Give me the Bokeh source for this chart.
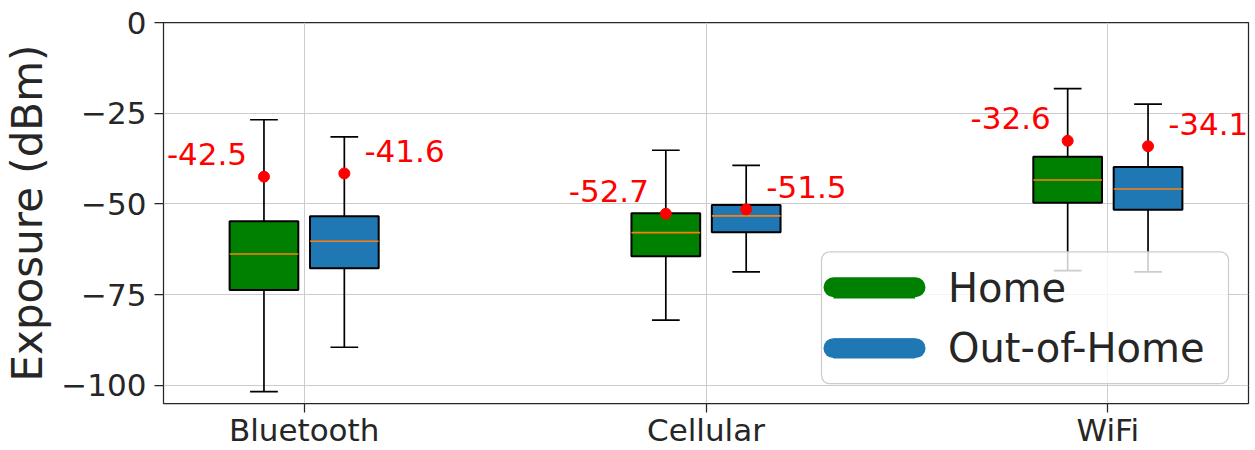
from bokeh.plotting import figure
from bokeh.models import Range1d, FixedTicker, ColumnDataSource, Legend, LegendItem, BoxAnnotation
from bokeh.core.properties import value
from bokeh.embed import file_html
from bokeh.resources import INLINE

categories = ["Bluetooth", "Cellular", "WiFi"]
groups = ["Home", "Out-of-Home"]
group_colors = ["#008000", "#1f77b4"]

home_whislo = [-101.7, -82.0, -68.4]
home_q1 = [-73.7, -64.4, -49.7]
home_med = [-63.8, -57.9, -43.4]
home_q3 = [-54.8, -52.6, -37.0]
home_whishi = [-26.8, -35.2, -18.2]
home_mean = [-42.5, -52.7, -32.6]

ooh_whislo = [-89.5, -68.7, -68.7]
ooh_q1 = [-67.7, -57.8, -51.6]
ooh_med = [-60.3, -53.3, -45.9]
ooh_q3 = [-53.4, -50.3, -39.8]
ooh_whishi = [-31.5, -39.4, -22.5]
ooh_mean = [-41.6, -51.5, -34.1]

y_ticks = [-100, -75, -50, -25, 0]

FONT = "DejaVu Sans"
TXT = "#262626"

W, H = 1255, 450
BL, BR, BT, BB = 163, 7, 22, 46
X0, X1 = -0.35, 2.35
Y0, Y1 = -105, 0

p = figure(width=W, height=H, output_backend="svg", toolbar_location=None,
           x_range=Range1d(X0, X1), y_range=Range1d(Y0, Y1),
           min_border_left=BL, min_border_right=BR, min_border_top=BT, min_border_bottom=BB)
p.background_fill_color = "white"
p.border_fill_color = "white"
p.outline_line_color = TXT
p.outline_line_width = 1.25

BOX_W = 0.171
CAP_W = 0.069

def draw_group(idx_off, whislo, q1, med, q3, whishi, mean, color, label_off, align):
    xs = [i + idx_off for i in range(len(categories))]
    src = ColumnDataSource(dict(
        x=xs, whislo=whislo, q1=q1, med=med, q3=q3, whishi=whishi, mean=mean,
        xl=[x - BOX_W / 2 for x in xs], xr=[x + BOX_W / 2 for x in xs],
        cl=[x - CAP_W / 2 for x in xs], cr=[x + CAP_W / 2 for x in xs],
        tx=[x + label_off for x in xs], ty=[m + 6.2 for m in mean],
        txt=["%.1f" % m for m in mean],
    ))
    p.segment(x0="x", y0="q3", x1="x", y1="whishi", source=src, line_color="black", line_width=1.7)
    p.segment(x0="x", y0="q1", x1="x", y1="whislo", source=src, line_color="black", line_width=1.7)
    p.segment(x0="cl", y0="whishi", x1="cr", y1="whishi", source=src, line_color="black", line_width=1.7)
    p.segment(x0="cl", y0="whislo", x1="cr", y1="whislo", source=src, line_color="black", line_width=1.7)
    p.vbar(x="x", width=BOX_W, top="q3", bottom="q1", source=src,
           fill_color=color, line_color="black", line_width=2)
    p.segment(x0="xl", y0="med", x1="xr", y1="med", source=src, line_color="#ff7f0e", line_width=1.6)
    p.scatter(x="x", y="mean", source=src, marker="circle", size=11,
              fill_color="red", line_color="red")
    p.text(x="tx", y="ty", text="txt", source=src, text_color="red",
           text_font=value(FONT), text_font_size="31px",
           text_align=align, text_baseline="middle")

draw_group(-0.1, home_whislo, home_q1, home_med, home_q3, home_whishi, home_mean,
           group_colors[0], -0.042, "right")
draw_group(0.1, ooh_whislo, ooh_q1, ooh_med, ooh_q3, ooh_whishi, ooh_mean,
           group_colors[1], 0.05, "left")

# legend proxies (drawn outside the visible ranges)
proxies = [p.segment(x0=[-10], y0=[-500], x1=[-9], y1=[-500],
                     line_color=c, line_width=20, line_cap="butt") for c in group_colors]

LEG_MARGIN, LEG_PAD, LEG_SPACING = 20, 12, 14
GLYPH_W, GLYPH_H, STANDOFF, LABEL_W = 82, 24, 33, 268
ROW_H = 47      # rendered height of a 40px legend label
PILL_H = 20

frame_w = W - BL - BR
frame_h = H - BT - BB
def dx(px):
    return X0 + px * (X1 - X0) / frame_w
def dy(py):
    return Y0 + py * (Y1 - Y0) / frame_h

n = len(groups)
leg_w = 2 * LEG_PAD + GLYPH_W + STANDOFF + LABEL_W
leg_h = 2 * LEG_PAD + n * ROW_H + (n - 1) * LEG_SPACING
leg_left = frame_w - LEG_MARGIN - leg_w
leg_bottom = LEG_MARGIN

# legend frame: translucent white, light border, rounded corners
bg = BoxAnnotation(left=dx(leg_left), right=dx(leg_left + leg_w),
                   bottom=dy(leg_bottom), top=dy(leg_bottom + leg_h),
                   fill_color="white", fill_alpha=0.8,
                   line_color="#cccccc", line_width=1.2, line_alpha=1.0)
if "border_radius" in BoxAnnotation.properties():
    bg.border_radius = 8
p.add_layout(bg)

# rounded swatches in the legend's glyph area
g_left = leg_left + LEG_PAD
g_right = g_left + GLYPH_W
for k, c in enumerate(group_colors):
    row_from_bottom = n - 1 - k
    cy = leg_bottom + LEG_PAD + ROW_H / 2 + row_from_bottom * (ROW_H + LEG_SPACING)
    box = BoxAnnotation(left=dx(g_left - PILL_H / 2), right=dx(g_right + PILL_H / 2),
                        bottom=dy(cy - PILL_H / 2), top=dy(cy + PILL_H / 2),
                        fill_color=c, fill_alpha=1.0, line_color=None)
    if "border_radius" in BoxAnnotation.properties():
        box.border_radius = PILL_H // 2
    p.add_layout(box)

# legend holds the labels; without a border its padding is dropped, so the
# padding is folded into the margin
legend = Legend(items=[LegendItem(label=g, renderers=[r]) for g, r in zip(groups, proxies)],
                location="bottom_right")
legend.margin = LEG_MARGIN + LEG_PAD
legend.padding = 0
legend.spacing = LEG_SPACING
legend.glyph_width = GLYPH_W
legend.glyph_height = GLYPH_H
legend.label_standoff = STANDOFF
legend.label_width = LABEL_W
legend.label_text_font = FONT
legend.label_text_font_size = "40px"
legend.label_text_color = TXT
legend.background_fill_alpha = 0.0
legend.border_line_color = None
p.add_layout(legend)

# axes
p.xaxis.ticker = FixedTicker(ticks=list(range(len(categories))))
p.xaxis.major_label_overrides = {i: c for i, c in enumerate(categories)}
p.yaxis.ticker = FixedTicker(ticks=y_ticks)
p.yaxis.major_label_overrides = {t: ("\u2212" + str(-t) if t < 0 else str(t)) for t in y_ticks}
p.yaxis.axis_label = "Exposure (dBm)"

for ax in (p.xaxis[0], p.yaxis[0]):
    ax.axis_line_color = None
    ax.major_tick_line_color = TXT
    ax.major_tick_line_width = 1.25
    ax.major_tick_in = 0
    ax.major_tick_out = 9
    ax.minor_tick_line_color = None
    ax.major_label_text_font = FONT
    ax.major_label_text_font_size = "31px"
    ax.major_label_text_color = TXT
    ax.axis_label_text_font = FONT
    ax.axis_label_text_font_style = "normal"
    ax.axis_label_text_color = TXT
p.xaxis.major_label_standoff = -1
p.yaxis.major_label_standoff = 8
p.yaxis.axis_label_text_font_size = "42px"
p.yaxis.axis_label_standoff = 6

p.xgrid.grid_line_color = "#cccccc"
p.ygrid.grid_line_color = "#cccccc"
p.xgrid.grid_line_width = 1
p.ygrid.grid_line_width = 1

open("out.html", "w").write(file_html(p, INLINE))
